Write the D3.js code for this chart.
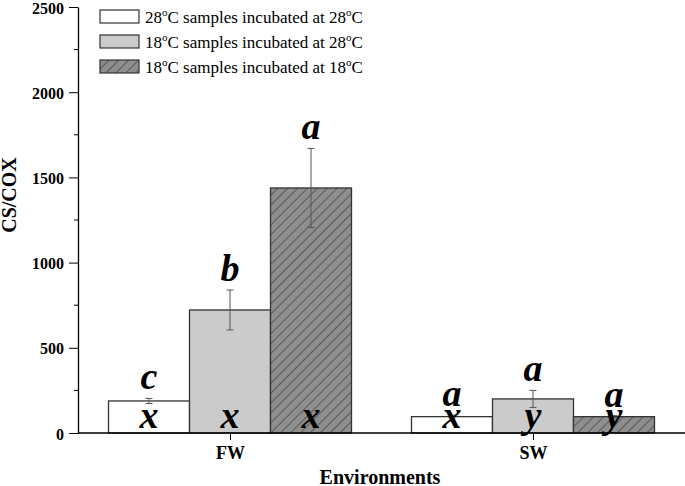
<!DOCTYPE html>
<html><head><meta charset="utf-8">
<script src="https://cdn.jsdelivr.net/npm/d3@7"></script>
<style>body{margin:0;background:#fff}svg{display:block}</style>
</head><body>
<svg id="chart" width="685" height="486"></svg>
<script>
const environments = ["FW", "SW"];
const seriesKeys = ["s28at28", "s18at28", "s18at18"];
const seriesNames = [["28","28"],["18","28"],["18","18"]];
const meanFW = [188, 722, 1438];
const meanSW = [96, 200, 96];
const errFW = [15, 117, 232];
const errSW = [8, 50, 6];
const topLettersFW = ["c", "b", "a"];
const topLettersSW = ["a", "a", "a"];
const bottomLettersFW = ["x", "x", "x"];
const bottomLettersSW = ["x", "y", "y"];
const yTicks = [0, 500, 1000, 1500, 2000, 2500];

const rows = [];
environments.forEach((env, gi) => {
  const m = gi === 0 ? meanFW : meanSW;
  const e = gi === 0 ? errFW : errSW;
  const t = gi === 0 ? topLettersFW : topLettersSW;
  const b = gi === 0 ? bottomLettersFW : bottomLettersSW;
  seriesKeys.forEach((k, si) => rows.push({env, key: k, si, value: m[si], err: e[si], top: t[si], bottom: b[si]}));
});

const svg = d3.select("#chart");
const x0 = d3.scalePoint().domain(environments).range([78, 685]).padding(0.5017);
const x1 = d3.scaleBand().domain(seriesKeys).range([-121.5, 121.5]).padding(0);
const y = d3.scaleLinear().domain([0, 2500]).range([433, 7]);

const defs = svg.append("defs");
const pat = defs.append("pattern").attr("id", "hatch").attr("patternUnits", "userSpaceOnUse")
  .attr("width", 7).attr("height", 7).attr("patternTransform", "rotate(45)");
pat.append("rect").attr("width", 7).attr("height", 7).attr("fill", "#8e8e8e");
pat.append("line").attr("x1", 0).attr("y1", 0).attr("x2", 0).attr("y2", 7)
  .attr("stroke", "#222").attr("stroke-width", 1);

const fills = {s28at28: "#ffffff", s18at28: "#cbcbcb", s18at18: "url(#hatch)"};
const serif = "'Liberation Serif','Times New Roman',serif";

// bars
svg.append("g").selectAll("rect").data(rows).join("rect")
  .attr("x", d => x0(d.env) + x1(d.key))
  .attr("y", d => y(d.value))
  .attr("width", x1.bandwidth())
  .attr("height", d => y(0) - y(d.value))
  .attr("fill", d => fills[d.key])
  .attr("stroke", "#333").attr("stroke-width", 1.3);

// error bars
const eb = svg.append("g").attr("stroke", "#555").attr("stroke-width", 1);
rows.forEach(d => {
  const cx = x0(d.env) + x1(d.key) + x1.bandwidth() / 2;
  eb.append("line").attr("x1", cx).attr("x2", cx).attr("y1", y(d.value + d.err)).attr("y2", y(d.value - d.err));
  [d.value + d.err, d.value - d.err].forEach(v => {
    eb.append("line").attr("x1", cx - 3.5).attr("x2", cx + 3.5).attr("y1", y(v)).attr("y2", y(v));
  });
});

// letters
const lt = svg.append("g").attr("font-family", serif).attr("font-weight", "bold")
  .attr("font-style", "italic").attr("font-size", 38).attr("text-anchor", "middle").attr("fill", "#000");
rows.forEach(d => {
  const cx = x0(d.env) + x1(d.key) + x1.bandwidth() / 2;
  lt.append("text").attr("x", cx).attr("y", y(d.value + d.err) - 9).text(d.top);
  lt.append("text").attr("x", cx).attr("y", y(0) - 5).text(d.bottom);
});

// y axis
const yAxis = svg.append("g").attr("transform", "translate(78,0)")
  .call(d3.axisLeft(y).tickValues(yTicks).tickFormat(d3.format("d")).tickSize(9).tickSizeOuter(0).tickPadding(5));
yAxis.append("g").selectAll("line").data(d3.range(250, 2500, 500)).join("line")
  .attr("x1", -4).attr("x2", 0).attr("y1", d => y(d)).attr("y2", d => y(d)).attr("stroke", "#000");
yAxis.select(".domain").attr("stroke-width", 1.3);
yAxis.selectAll("text").attr("font-family", serif).attr("font-weight", "bold").attr("font-size", 16)
  .attr("dy", "0.38em").attr("fill", "#000");

// x axis
const xAxis = svg.append("g").attr("transform", "translate(0,433)")
  .call(d3.axisBottom(x0).tickSize(7).tickSizeOuter(0).tickPadding(6));
xAxis.select(".domain").attr("d", "M78,0H685").attr("stroke-width", 1.3);
xAxis.selectAll("text").attr("font-family", serif).attr("font-weight", "bold").attr("font-size", 18).attr("fill", "#000");

// axis titles
svg.append("text").attr("x", 380).attr("y", 484).attr("text-anchor", "middle")
  .attr("font-family", serif).attr("font-weight", "bold").attr("font-size", 20).text("Environments");
svg.append("text").attr("transform", "translate(16,195) rotate(-90)").attr("text-anchor", "middle")
  .attr("font-family", serif).attr("font-weight", "bold").attr("font-size", 20).text("CS/COX");

// legend
const lg = svg.append("g").attr("font-family", serif).attr("font-size", 17);
seriesKeys.forEach((k, i) => {
  const yy = 10 + i * 25;
  lg.append("rect").attr("x", 100).attr("y", yy).attr("width", 39).attr("height", 13)
    .attr("fill", fills[k]).attr("stroke", "#333").attr("stroke-width", 1.2);
  const t = lg.append("text").attr("x", 145).attr("y", yy + 13);
  t.append("tspan").text(seriesNames[i][0]);
  t.append("tspan").attr("font-size", 11).attr("dy", -7).text("o");
  t.append("tspan").attr("dy", 7).text("C samples incubated at " + seriesNames[i][1]);
  t.append("tspan").attr("font-size", 11).attr("dy", -7).text("o");
  t.append("tspan").attr("dy", 7).text("C");
});
</script>
</body></html>
